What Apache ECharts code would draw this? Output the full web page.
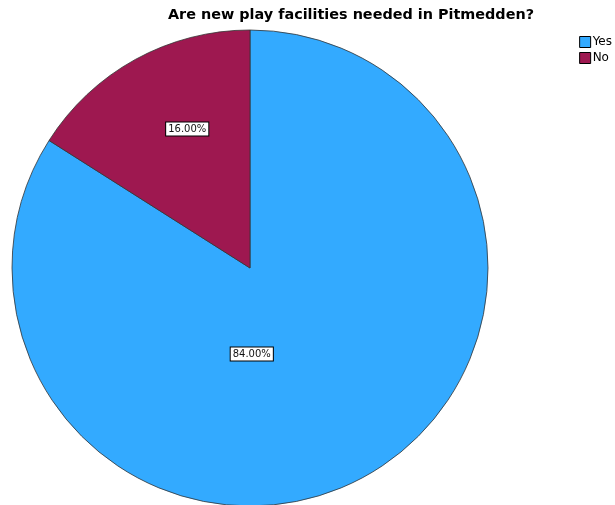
<!DOCTYPE html>
<html><head><meta charset="utf-8">
<script src="https://cdn.jsdelivr.net/npm/echarts@6/dist/echarts.min.js"></script>
<style>html,body{margin:0;padding:0;background:#fff}#c{width:615px;height:505px}</style>
</head><body><div id="c"></div>
<script>
const categories = ['Yes', 'No'];
const percents = [84.0, 16.0];
const colors = ['#33AAFF', '#9E1850'];
const labelShift = [[-57, -21], [-4, -32]];

const chart = echarts.init(document.getElementById('c'), null, {renderer: 'canvas'});
chart.setOption({
  animation: false,
  backgroundColor: '#fff',
  title: {
    text: 'Are new play facilities needed in Pitmedden?',
    left: 346, top: 3, textAlign: 'center',
    textStyle: {fontFamily: 'DejaVu Sans', fontWeight: 'bold', fontSize: 14.4, color: '#000'}
  },
  legend: {
    orient: 'vertical', right: -2, top: 31,
    itemWidth: 11, itemHeight: 11, itemGap: 4, icon: 'rect',
    textStyle: {fontFamily: 'DejaVu Sans', fontSize: 12, color: '#000', padding: [0, 0, 0, -3]},
    itemStyle: {borderColor: '#000', borderWidth: 1},
    data: categories
  },
  series: [{
    type: 'pie',
    center: [250, 268],
    radius: 238,
    startAngle: 90,
    clockwise: true,
    itemStyle: {borderColor: '#333', borderWidth: 0.8},
    label: {
      show: true, position: 'inside',
      formatter: p => p.value.toFixed(2) + '%',
      fontFamily: 'DejaVu Sans', fontSize: 10, color: '#111',
      backgroundColor: '#fff', borderColor: '#000', borderWidth: 1, padding: [2, 2, 1, 2]
    },
    labelLayout: p => ({dx: labelShift[p.dataIndex][0], dy: labelShift[p.dataIndex][1]}),
    emphasis: {disabled: true},
    data: categories.map((c, i) => ({name: c, value: percents[i], itemStyle: {color: colors[i]}}))
  }]
});
</script></body></html>
